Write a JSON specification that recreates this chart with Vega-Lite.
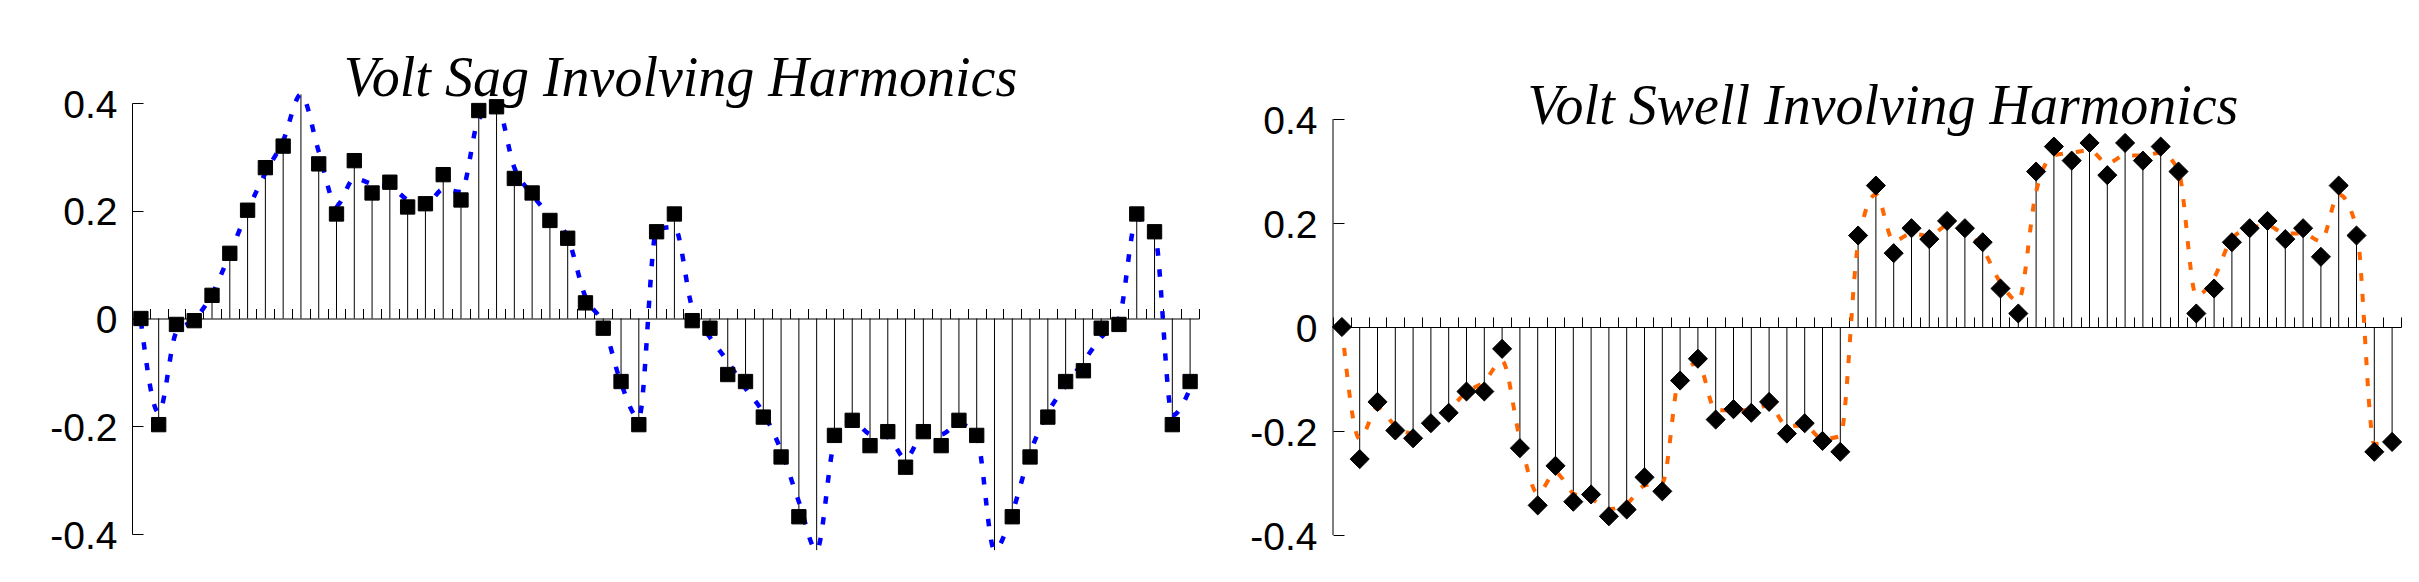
{
  "$schema": "https://vega.github.io/schema/vega-lite/v6.json",
  "background": "white",
  "padding": {"left": 49, "top": 51, "right": 5, "bottom": 5},
  "spacing": 49,
  "config": {"view": {"stroke": null}},
  "datasets": {
    "sag": [
      {"t": 0.5, "v": 0.000, "c": -0.005},
      {"t": 1.5, "v": -0.197, "c": -0.175},
      {"t": 2.5, "v": -0.011, "c": -0.025},
      {"t": 3.5, "v": -0.004, "c": -0.002},
      {"t": 4.5, "v": 0.043, "c": 0.045},
      {"t": 5.5, "v": 0.121, "c": 0.120},
      {"t": 6.5, "v": 0.201, "c": 0.200},
      {"t": 7.5, "v": 0.280, "c": 0.270},
      {"t": 8.5, "v": 0.320, "c": 0.330},
      {"t": 9.5, "v": 0.416, "c": 0.416},
      {"t": 10.5, "v": 0.287, "c": 0.310},
      {"t": 11.5, "v": 0.194, "c": 0.210},
      {"t": 12.5, "v": 0.293, "c": 0.260},
      {"t": 13.5, "v": 0.233, "c": 0.250},
      {"t": 14.5, "v": 0.253, "c": 0.245},
      {"t": 15.5, "v": 0.207, "c": 0.220},
      {"t": 16.5, "v": 0.213, "c": 0.210},
      {"t": 17.5, "v": 0.267, "c": 0.240},
      {"t": 18.5, "v": 0.220, "c": 0.235},
      {"t": 19.5, "v": 0.386, "c": 0.370},
      {"t": 20.5, "v": 0.393, "c": 0.395},
      {"t": 21.5, "v": 0.260, "c": 0.280},
      {"t": 22.5, "v": 0.233, "c": 0.230},
      {"t": 23.5, "v": 0.182, "c": 0.190},
      {"t": 24.5, "v": 0.149, "c": 0.150},
      {"t": 25.5, "v": 0.029, "c": 0.040},
      {"t": 26.5, "v": -0.018, "c": -0.010},
      {"t": 27.5, "v": -0.117, "c": -0.120},
      {"t": 28.5, "v": -0.197, "c": -0.185},
      {"t": 29.5, "v": 0.161, "c": 0.165},
      {"t": 30.5, "v": 0.194, "c": 0.170},
      {"t": 31.5, "v": -0.004, "c": 0.020},
      {"t": 32.5, "v": -0.018, "c": -0.035},
      {"t": 33.5, "v": -0.104, "c": -0.080},
      {"t": 34.5, "v": -0.117, "c": -0.130},
      {"t": 35.5, "v": -0.183, "c": -0.175},
      {"t": 36.5, "v": -0.257, "c": -0.245},
      {"t": 37.5, "v": -0.368, "c": -0.340},
      {"t": 38.5, "v": -0.430, "c": -0.430},
      {"t": 39.5, "v": -0.217, "c": -0.230},
      {"t": 40.5, "v": -0.189, "c": -0.190},
      {"t": 41.5, "v": -0.236, "c": -0.215},
      {"t": 42.5, "v": -0.210, "c": -0.220},
      {"t": 43.5, "v": -0.276, "c": -0.260},
      {"t": 44.5, "v": -0.210, "c": -0.215},
      {"t": 45.5, "v": -0.236, "c": -0.215},
      {"t": 46.5, "v": -0.189, "c": -0.195},
      {"t": 47.5, "v": -0.217, "c": -0.220},
      {"t": 48.5, "v": -0.430, "c": -0.430},
      {"t": 49.5, "v": -0.368, "c": -0.360},
      {"t": 50.5, "v": -0.257, "c": -0.250},
      {"t": 51.5, "v": -0.183, "c": -0.175},
      {"t": 52.5, "v": -0.117, "c": -0.125},
      {"t": 53.5, "v": -0.097, "c": -0.080},
      {"t": 54.5, "v": -0.018, "c": -0.035},
      {"t": 55.5, "v": -0.011, "c": 0.000},
      {"t": 56.5, "v": 0.194, "c": 0.185},
      {"t": 57.5, "v": 0.161, "c": 0.160},
      {"t": 58.5, "v": -0.197, "c": -0.180},
      {"t": 59.5, "v": -0.117, "c": -0.130}
    ],
    "swell": [
      {"t": 0.5, "v": 0.000, "c": 0.000},
      {"t": 1.5, "v": -0.254, "c": -0.215},
      {"t": 2.5, "v": -0.144, "c": -0.155},
      {"t": 3.5, "v": -0.199, "c": -0.190},
      {"t": 4.5, "v": -0.214, "c": -0.205},
      {"t": 5.5, "v": -0.185, "c": -0.185},
      {"t": 6.5, "v": -0.165, "c": -0.160},
      {"t": 7.5, "v": -0.124, "c": -0.125},
      {"t": 8.5, "v": -0.124, "c": -0.105},
      {"t": 9.5, "v": -0.042, "c": -0.065},
      {"t": 10.5, "v": -0.233, "c": -0.215},
      {"t": 11.5, "v": -0.343, "c": -0.320},
      {"t": 12.5, "v": -0.267, "c": -0.280},
      {"t": 13.5, "v": -0.336, "c": -0.320},
      {"t": 14.5, "v": -0.322, "c": -0.330},
      {"t": 15.5, "v": -0.364, "c": -0.350},
      {"t": 16.5, "v": -0.351, "c": -0.340},
      {"t": 17.5, "v": -0.289, "c": -0.305},
      {"t": 18.5, "v": -0.316, "c": -0.300},
      {"t": 19.5, "v": -0.103, "c": -0.090},
      {"t": 20.5, "v": -0.061, "c": -0.070},
      {"t": 21.5, "v": -0.178, "c": -0.160},
      {"t": 22.5, "v": -0.158, "c": -0.160},
      {"t": 23.5, "v": -0.165, "c": -0.160},
      {"t": 24.5, "v": -0.144, "c": -0.150},
      {"t": 25.5, "v": -0.205, "c": -0.190},
      {"t": 26.5, "v": -0.185, "c": -0.190},
      {"t": 27.5, "v": -0.219, "c": -0.215},
      {"t": 28.5, "v": -0.240, "c": -0.210},
      {"t": 29.5, "v": 0.176, "c": 0.160},
      {"t": 30.5, "v": 0.272, "c": 0.255},
      {"t": 31.5, "v": 0.142, "c": 0.165},
      {"t": 32.5, "v": 0.190, "c": 0.180},
      {"t": 33.5, "v": 0.169, "c": 0.175},
      {"t": 34.5, "v": 0.204, "c": 0.195},
      {"t": 35.5, "v": 0.190, "c": 0.185},
      {"t": 36.5, "v": 0.163, "c": 0.150},
      {"t": 37.5, "v": 0.074, "c": 0.085},
      {"t": 38.5, "v": 0.026, "c": 0.050},
      {"t": 39.5, "v": 0.299, "c": 0.260},
      {"t": 40.5, "v": 0.347, "c": 0.330},
      {"t": 41.5, "v": 0.320, "c": 0.335},
      {"t": 42.5, "v": 0.354, "c": 0.340},
      {"t": 43.5, "v": 0.292, "c": 0.315},
      {"t": 44.5, "v": 0.354, "c": 0.330},
      {"t": 45.5, "v": 0.320, "c": 0.330},
      {"t": 46.5, "v": 0.347, "c": 0.335},
      {"t": 47.5, "v": 0.299, "c": 0.300},
      {"t": 48.5, "v": 0.026, "c": 0.060},
      {"t": 49.5, "v": 0.074, "c": 0.095},
      {"t": 50.5, "v": 0.163, "c": 0.170},
      {"t": 51.5, "v": 0.190, "c": 0.190},
      {"t": 52.5, "v": 0.204, "c": 0.195},
      {"t": 53.5, "v": 0.169, "c": 0.180},
      {"t": 54.5, "v": 0.190, "c": 0.180},
      {"t": 55.5, "v": 0.135, "c": 0.165},
      {"t": 56.5, "v": 0.272, "c": 0.255},
      {"t": 57.5, "v": 0.176, "c": 0.190},
      {"t": 58.5, "v": -0.240, "c": -0.225},
      {"t": 59.5, "v": -0.221, "c": -0.220}
    ]
  },
  "hconcat": [
    {
      "width": 1067,
      "height": 431,
      "title": {"text": "Volt Sag Involving Harmonics", "frame": "group", "anchor": "middle", "baseline": "alphabetic", "offset": -67, "dx": 15, "font": "Liberation Serif", "fontStyle": "italic", "fontWeight": "normal", "fontSize": 56, "color": "black"},
      "data": {"name": "sag"},
      "encoding": {
        "x": {"field": "t", "type": "quantitative", "scale": {"domain": [0, 60], "nice": false, "zero": false},
          "axis": {"orient": "bottom", "offset": -215.5, "labels": false, "tickCount": 60, "tickSize": -10, "domainColor": "black", "tickColor": "black", "domainWidth": 1.2, "tickWidth": 1, "grid": false, "title": null}}
      },
      "layer": [
        {
          "mark": {"type": "rule", "color": "black", "strokeWidth": 1},
          "encoding": {
            "y": {"field": "v", "type": "quantitative", "scale": {"domain": [-0.4, 0.4], "nice": false, "zero": false},
              "axis": {"orient": "left", "values": [-0.4, -0.2, 0, 0.2, 0.4], "tickSize": -11, "labelPadding": 26, "labelFont": "Liberation Sans", "labelFontSize": 39, "labelColor": "black", "labelOffset": 2, "labelExpr": "datum.value == 0 ? '0' : (datum.value < 0 ? '-' : '') + format(abs(datum.value), '.1f')", "domainColor": "black", "tickColor": "black", "domainWidth": 1, "tickWidth": 1, "grid": false, "title": null}},
            "y2": {"datum": 0}
          }
        },
        {
          "mark": {"type": "line", "interpolate": "monotone", "color": "#0000FF", "strokeWidth": 4.5, "strokeDash": [7.5, 13.5]},
          "encoding": {"y": {"field": "c", "type": "quantitative"}}
        },
        {
          "transform": [{"filter": "abs(datum.v) <= 0.4"}],
          "mark": {"type": "point", "shape": "square", "filled": true, "color": "black", "opacity": 1, "size": 205, "stroke": "black", "strokeWidth": 1, "strokeJoin": "round"},
          "encoding": {"y": {"field": "v", "type": "quantitative"}}
        }
      ]
    },
    {
      "width": 1068,
      "height": 432,
      "title": {"text": "Volt Swell Involving Harmonics", "frame": "group", "anchor": "middle", "baseline": "alphabetic", "offset": -77.5, "dx": 16, "font": "Liberation Serif", "fontStyle": "italic", "fontWeight": "normal", "fontSize": 56, "color": "black"},
      "data": {"name": "swell"},
      "encoding": {
        "x": {"field": "t", "type": "quantitative", "scale": {"domain": [0, 60], "nice": false, "zero": false},
          "axis": {"orient": "bottom", "offset": -208, "labels": false, "tickCount": 60, "tickSize": -10, "domainColor": "black", "tickColor": "black", "domainWidth": 1.2, "tickWidth": 1, "grid": false, "title": null}}
      },
      "layer": [
        {
          "mark": {"type": "rule", "color": "black", "strokeWidth": 1},
          "encoding": {
            "y": {"field": "v", "type": "quantitative", "scale": {"domain": [-0.4, 0.4308], "nice": false, "zero": false},
              "axis": {"orient": "left", "values": [-0.4, -0.2, 0, 0.2, 0.4], "domain": false, "tickSize": -11, "labelPadding": 27, "labelFont": "Liberation Sans", "labelFontSize": 39, "labelColor": "black", "labelOffset": 2, "labelExpr": "datum.value == 0 ? '0' : (datum.value < 0 ? '-' : '') + format(abs(datum.value), '.1f')", "tickColor": "black", "tickWidth": 1, "grid": false, "title": null}},
            "y2": {"datum": 0}
          }
        },
        {
          "data": {"values": [{"lo": -0.4, "hi": 0.4, "x0": 0}]},
          "mark": {"type": "rule", "color": "black", "strokeWidth": 1},
          "encoding": {
            "x": {"field": "x0", "type": "quantitative"},
            "y": {"field": "lo", "type": "quantitative"},
            "y2": {"field": "hi"}
          }
        },
        {
          "mark": {"type": "line", "interpolate": "monotone", "color": "#FF6600", "strokeWidth": 4, "strokeDash": [8, 13]},
          "encoding": {"y": {"field": "c", "type": "quantitative"}}
        },
        {
          "mark": {"type": "point", "shape": "diamond", "filled": true, "color": "black", "opacity": 1, "size": 365, "stroke": "black", "strokeWidth": 1, "strokeJoin": "round"},
          "encoding": {"y": {"field": "v", "type": "quantitative"}}
        }
      ]
    }
  ]
}
